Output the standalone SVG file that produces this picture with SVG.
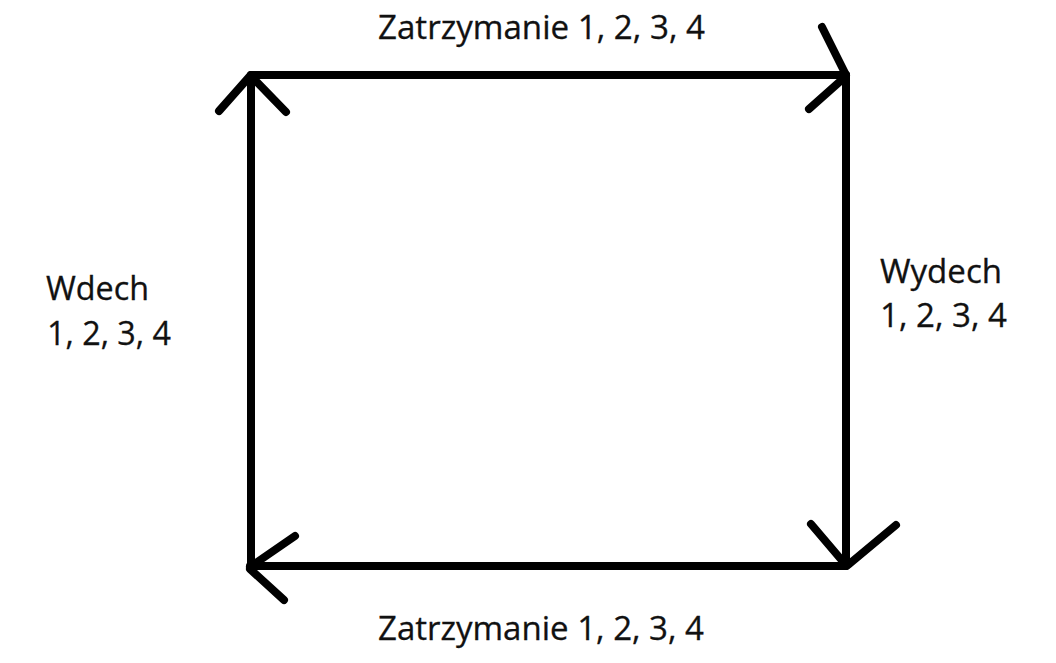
<svg xmlns="http://www.w3.org/2000/svg" width="1056" height="663" viewBox="0 0 1056 663">
  <style>
    .edge { fill: none; stroke: #000; stroke-width: 8; stroke-linecap: round; stroke-linejoin: round; }
    .lbl { font-family: "Open Sans", "Noto Sans", "Liberation Sans", sans-serif; font-size: 32px; fill: #111; stroke: #111; stroke-width: 0.3; }
  </style>
  <rect width="1056" height="663" fill="#fff"/>
  <g id="connectors">
    <g id="edge-top">
      <path class="edge" d="M251 75 H846"/>
      <path class="edge" d="M822 27 L846 75 M809 109 L845 77"/>
    </g>
    <g id="edge-right">
      <path class="edge" d="M846 75 V566"/>
      <path class="edge" d="M811 524 L845 564 M896 525 L848 565"/>
    </g>
    <g id="edge-bottom">
      <path class="edge" d="M846 566 H250"/>
      <path class="edge" d="M295 536 L250 567 M284 600 L250 569"/>
    </g>
    <g id="edge-left">
      <path class="edge" d="M251 566 V75"/>
      <path class="edge" d="M219 111 L250 76 M286 112 L252 77"/>
    </g>
  </g>
  <g id="label-top">
    <text class="lbl" x="378" y="39" textLength="327" lengthAdjust="spacingAndGlyphs">Zatrzymanie 1, 2, 3, 4</text>
  </g>
  <g id="label-right">
    <text class="lbl" x="880" y="283" textLength="122" lengthAdjust="spacingAndGlyphs">Wydech</text>
    <text class="lbl" x="880" y="327" textLength="127" lengthAdjust="spacingAndGlyphs">1, 2, 3, 4</text>
  </g>
  <g id="label-bottom">
    <text class="lbl" x="378" y="640" textLength="326" lengthAdjust="spacingAndGlyphs">Zatrzymanie 1, 2, 3, 4</text>
  </g>
  <g id="label-left">
    <text class="lbl" x="46" y="300" textLength="103" lengthAdjust="spacingAndGlyphs">Wdech</text>
    <text class="lbl" x="47" y="345" textLength="124" lengthAdjust="spacingAndGlyphs">1, 2, 3, 4</text>
  </g>
</svg>
